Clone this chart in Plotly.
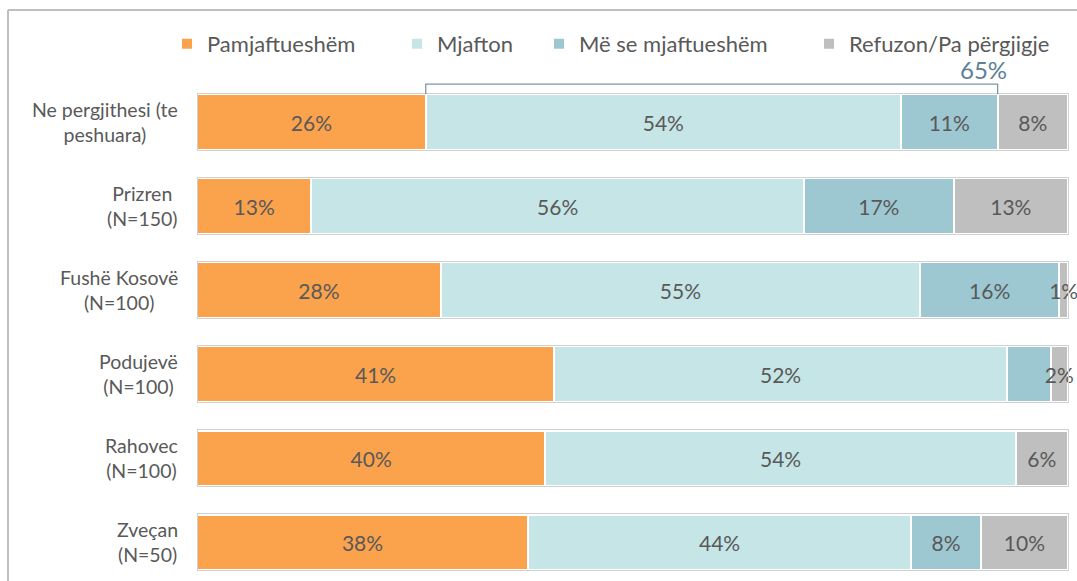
import plotly.graph_objects as go

# Survey responses by municipality (percent of respondents)
categories = [
    "Ne pergjithesi (te<br>peshuara)",
    "Prizren<br>(N=150)",
    "Fushë Kosovë<br>(N=100)",
    "Podujevë<br>(N=100)",
    "Rahovec<br>(N=100)",
    "Zveçan<br>(N=50)",
]
series_names = ["Pamjaftueshëm", "Mjafton", "Më se mjaftueshëm", "Refuzon/Pa përgjigje"]
pamjaftueshem = [26, 13, 28, 41, 40, 38]
mjafton = [54, 56, 55, 52, 54, 44]
me_se = [11, 17, 16, 5, 0, 8]
refuzon = [8, 13, 1, 2, 6, 10]
# segments whose value label is not printed
unlabeled = {(3, 2)}
combined_label = "65%"   # Mjafton + Më se mjaftueshëm, overall

colors = ["#FBA24D", "#C5E5E6", "#9DC8D2", "#BFBFBF"]
text_color = "#595959"
font_family = "Lato, 'Open Sans', sans-serif"

W, H = 1077, 581
ml, mr, mt, mb = 197, 0, 80, 0
bar_right = 1068                      # pixel where the 100% end of the bars sits
pw, ph = W - ml - mr, H - mt - mb
x_max = 100 * pw / (bar_right - ml)   # leaves room for labels of tiny end segments

series = [pamjaftueshem, mjafton, me_se, refuzon]
totals = [sum(vals) for vals in zip(*series)]
shares = [[v / t * 100 for v, t in zip(s, totals)] for s in series]

# legend entry positions (pixels from the left edge of the figure)
legend_px = [167, 397, 539, 809]
legend_ids = ["legend", "legend2", "legend3", "legend4"]

fig = go.Figure()
for k, (name, vals, sh, col) in enumerate(zip(series_names, series, shares, colors)):
    labels = ["" if (v == 0 or (i, k) in unlabeled) else f"{v}%" for i, v in enumerate(vals)]
    fig.add_trace(go.Bar(
        name=name, y=categories, x=sh, orientation="h",
        marker=dict(color=col, line=dict(color="white", width=2)),
        width=0.66,
        text=labels, textposition="inside", insidetextanchor="middle",
        constraintext="none", textangle=0,
        textfont=dict(size=21, color=text_color, family=font_family),
        hoverinfo="skip", legend=legend_ids[k],
    ))

# thin grey outline around every full bar
fig.add_trace(go.Bar(
    y=categories, x=[sum(col) for col in zip(*shares)], orientation="h",
    xaxis="x2", width=0.68, showlegend=False, hoverinfo="skip",
    marker=dict(color="rgba(0,0,0,0)", line=dict(color="#D0D0D0", width=1)),
))

# category labels, lines centred within each label block
for cat in categories:
    fig.add_annotation(
        x=0, y=cat, xref="paper", yref="y", text=cat, showarrow=False,
        xanchor="right", yanchor="middle", align="center", xshift=-17,
        font=dict(size=19.5, color=text_color, family=font_family),
    )

# bracket over Mjafton + Më se mjaftueshëm on the first bar
x0 = shares[0][0]
x1 = shares[0][0] + shares[1][0] + shares[2][0]
y_bar_top = -0.33
y_bracket = -0.45
fig.add_shape(
    type="path", xref="x", yref="y",
    path=f"M {x0},{y_bar_top} L {x0},{y_bracket} L {x1},{y_bracket} L {x1},{y_bar_top}",
    line=dict(color="#7E97A8", width=1.3),
)
fig.add_annotation(
    x=x1, y=y_bracket, xref="x", yref="y", text=combined_label, showarrow=False,
    yanchor="bottom", yshift=-2, xanchor="center", xshift=-14,
    font=dict(size=24, color="#5E7F96", family=font_family),
)

# outer frame lines (top and left)
fx = (8 - ml) / pw
fy = 1 + (mt - 10) / ph
fig.add_shape(type="line", xref="paper", yref="paper", x0=fx, x1=1.01, y0=fy, y1=fy,
              line=dict(color="#BFBFBF", width=2))
fig.add_shape(type="line", xref="paper", yref="paper", x0=fx, x1=fx, y0=fy, y1=-0.01,
              line=dict(color="#BFBFBF", width=2))

legend_y = 1 + 36 / ph
legend_style = dict(orientation="h", xanchor="left", y=legend_y, yanchor="middle",
                    font=dict(size=22, color=text_color, family=font_family),
                    itemclick=False, itemdoubleclick=False, bgcolor="rgba(0,0,0,0)")
legends = {lid: dict(legend_style, x=(px - ml) / pw) for lid, px in zip(legend_ids, legend_px)}

fig.update_layout(
    width=W, height=H,
    margin=dict(l=ml, r=mr, t=mt, b=mb),
    barmode="stack", bargap=0.34,
    plot_bgcolor="white", paper_bgcolor="white",
    font=dict(family=font_family, color=text_color, size=17),
    xaxis=dict(range=[0, x_max], visible=False, fixedrange=True),
    xaxis2=dict(range=[0, x_max], overlaying="x", visible=False, fixedrange=True),
    yaxis=dict(range=[5.46, -0.5], showgrid=False, zeroline=False, showline=False,
               ticks="", showticklabels=False, fixedrange=True),
    showlegend=True,
    **legends,
)

fig.write_html("out.html")
